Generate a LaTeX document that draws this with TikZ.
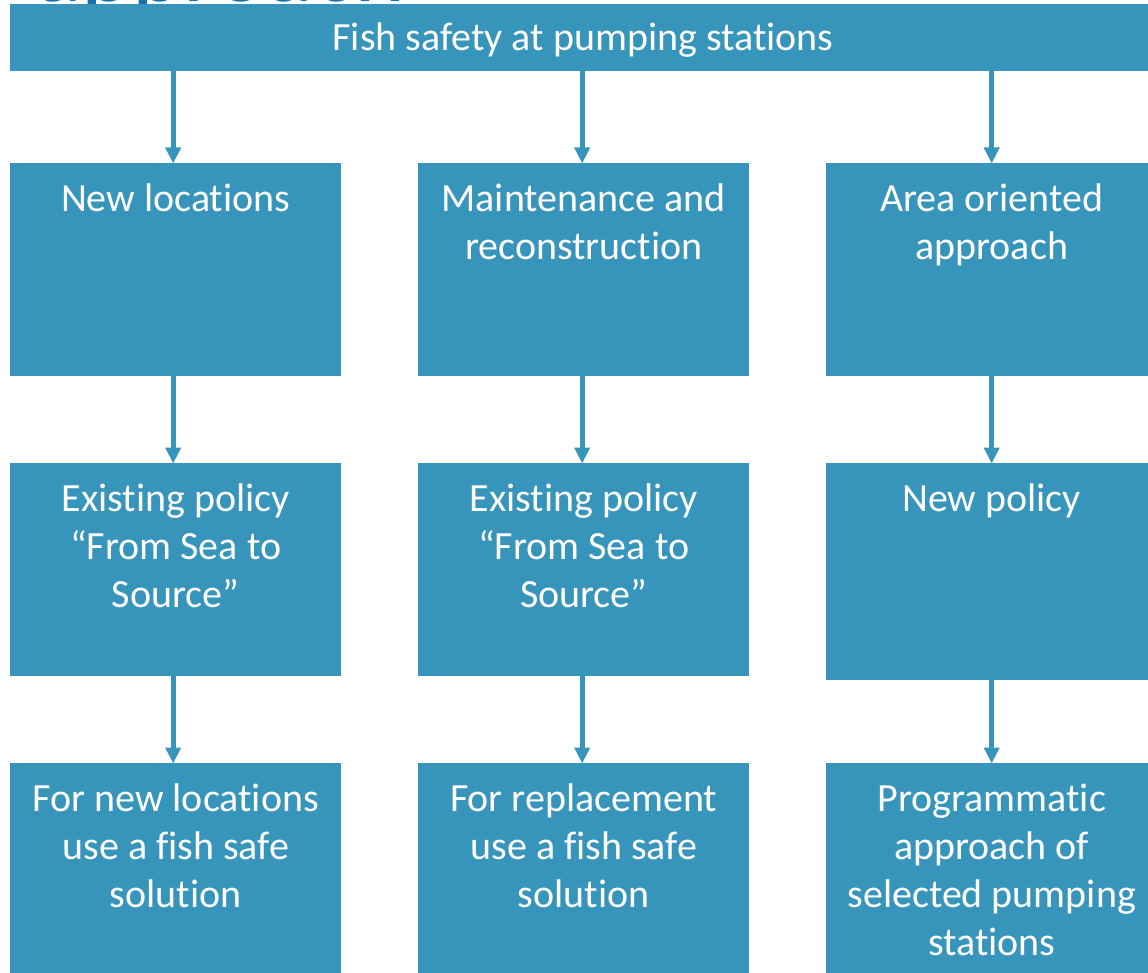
\documentclass[tikz,border=0pt]{standalone}
\usepackage{fontspec}
\setmainfont{Carlito}[Ligatures=NoCommon]
\usetikzlibrary{arrows.meta}
\definecolor{boxblue}{RGB}{55,149,188}
\definecolor{titleblue}{RGB}{18,112,170}
\newcommand{\firstln}{\rule{0pt}{32pt}}
\begin{document}
\begin{tikzpicture}[x=1pt,y=-1pt,
  box/.style={fill=boxblue, draw=none, inner sep=0pt, anchor=north west, minimum width=331pt, minimum height=213pt},
  lbl/.style={text=white, inner sep=0pt, align=center, anchor=north, font=\fontsize{40}{48}\selectfont},
  arr/.style={draw=boxblue, line width=5pt, -{Triangle[width=15pt,length=16pt]}, shorten >=-0.5pt}
]
\useasboundingbox (0,0) rectangle (1148,973);
% clipped title behind the banner
\node[text=titleblue, inner sep=0pt, anchor=base west, font=\fontsize{97}{110}\selectfont] (title) at (35,2) {approach};
% banner
\node[box, minimum width=1150pt, minimum height=67pt] (top) at (10,4) {};
\node[lbl, anchor=base] (toplbl) at (583,51) {Fish safety at pumping stations};
% row 1
\node[box] (a1) at (10,163) {};
\node[box] (b1) at (418,163) {};
\node[box] (c1) at (826,163) {};
% row 2
\node[box] (a2) at (10,463) {};
\node[box] (b2) at (418,463) {};
\node[box, minimum height=217pt] (c2) at (826,463) {};
% row 3
\node[box] (a3) at (10,763) {};
\node[box] (b3) at (418,763) {};
\node[box] (c3) at (826,763) {};
% labels (first baseline 48pt below the box top)
\node[lbl] (ta1) at ([yshift=-16pt]a1.north) {\firstln New locations};
\node[lbl] (tb1) at ([yshift=-16pt]b1.north) {\firstln Maintenance and\\reconstruction};
\node[lbl] (tc1) at ([yshift=-16pt]c1.north) {\firstln Area oriented\\approach};
\node[lbl] (ta2) at ([yshift=-16pt]a2.north) {\firstln Existing policy\\“From Sea to\\Source”};
\node[lbl] (tb2) at ([yshift=-16pt]b2.north) {\firstln Existing policy\\“From Sea to\\Source”};
\node[lbl] (tc2) at ([yshift=-16pt]c2.north) {\firstln New policy};
\node[lbl] (ta3) at ([yshift=-16pt]a3.north) {\firstln For new locations\\use a fish safe\\solution};
\node[lbl] (tb3) at ([yshift=-16pt]b3.north) {\firstln For replacement\\use a fish safe\\solution};
\node[lbl] (tc3) at ([yshift=-16pt]c3.north) {\firstln Programmatic\\approach of\\selected pumping\\stations};
% connectors
\draw[arr] ([xshift=-2.5pt]top.south -| a1.north) -- ([xshift=-2.5pt]a1.north);
\draw[arr] ([xshift=-1.5pt]top.south -| b1.north) -- ([xshift=-1.5pt]b1.north);
\draw[arr] (top.south -| c1.north) -- (c1.north);
\draw[arr] ([xshift=-2.5pt]a1.south) -- ([xshift=-2.5pt]a2.north);
\draw[arr] ([xshift=-1.5pt]b1.south) -- ([xshift=-1.5pt]b2.north);
\draw[arr] (c1.south) -- (c2.north);
\draw[arr] ([xshift=-2.5pt]a2.south) -- ([xshift=-2.5pt]a3.north);
\draw[arr] ([xshift=-1.5pt]b2.south) -- ([xshift=-1.5pt]b3.north);
\draw[arr] (c2.south) -- (c3.north);
\end{tikzpicture}
\end{document}
